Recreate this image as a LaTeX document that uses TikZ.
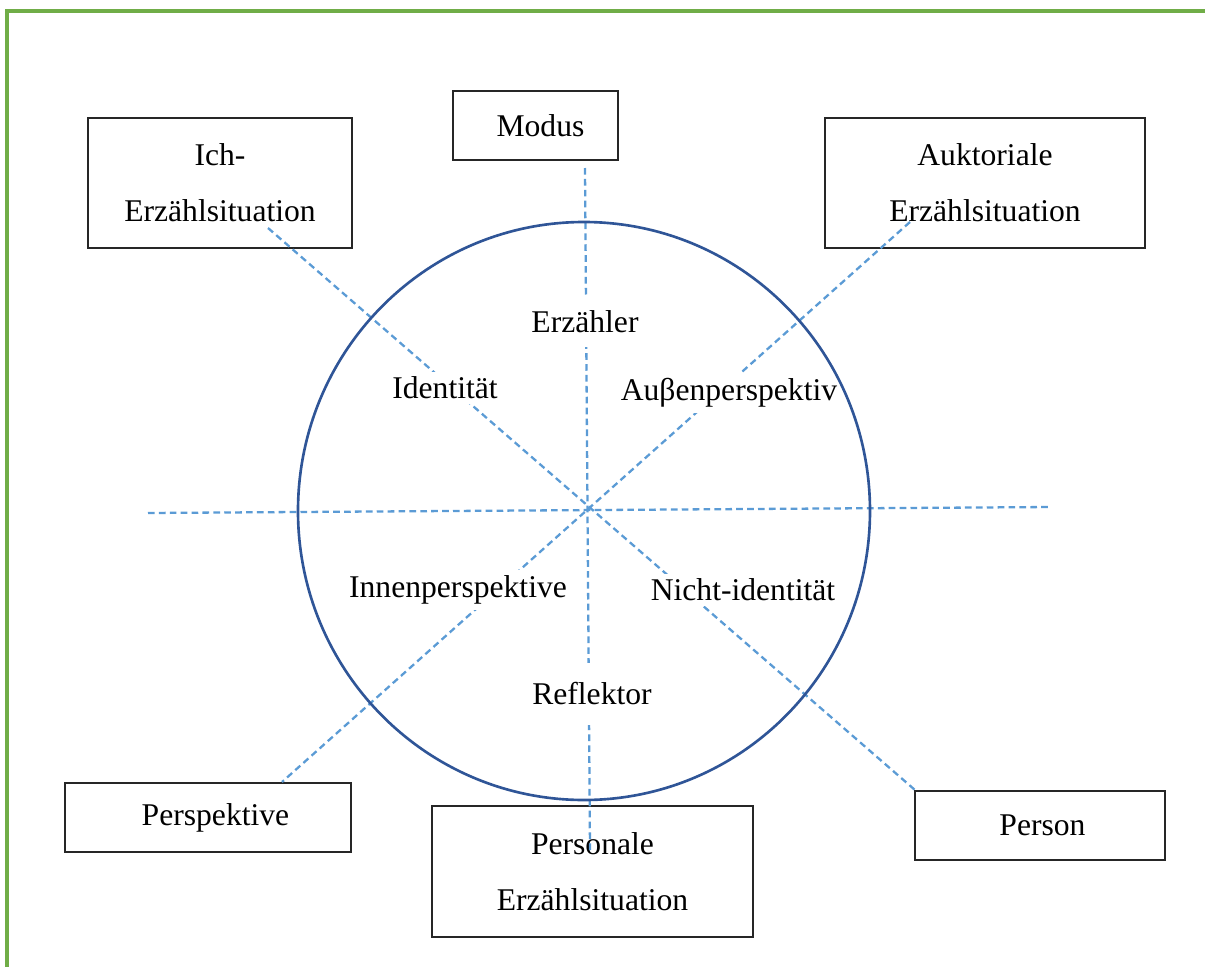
\documentclass[tikz,border=0pt]{standalone}
\usepackage{fontspec}
\setmainfont{Liberation Serif}
\usepackage{tkz-euclide}
\definecolor{achsblau}{RGB}{91,155,213}
\definecolor{kreisblau}{RGB}{47,85,151}
\definecolor{rahmengruen}{RGB}{112,173,71}
\tikzset{
    feld/.style={draw=black!85, line width=1pt, fill=white, align=center,
        inner sep=0pt, font=\fontsize{18}{32}\selectfont},
    achse/.style={color=achsblau, line width=1.3pt, dash pattern=on 3.8pt off 2.4pt},
    marke/.style={fill=white, inner sep=3pt, font=\fontsize{18}{22}\selectfont}
}

\begin{document}
\begin{tikzpicture}[x=0.02cm,y=-0.02cm]
        \useasboundingbox (0,0) rectangle (1205,967);
        \draw[rahmengruen, line width=2.6pt] (7,967) -- (7,11) -- (1205,11);
        % Felder aussen
        \node[feld, minimum width=5.28cm, minimum height=2.6cm] (ich) at (220,183) {Ich-\\Erzählsituation};
        \node[feld, minimum width=3.3cm, minimum height=1.38cm] (modus) at (535.5,125.5) {\hspace{0.2cm}Modus};
        \node[feld, minimum width=6.4cm, minimum height=2.6cm] (auktorial) at (985,183) {Auktoriale\\Erzählsituation};
        \node[feld, minimum width=5.72cm, minimum height=1.38cm] (perspektive) at (208,817.5) {\hspace{0.3cm}Perspektive};
        \node[feld, minimum width=6.42cm, minimum height=2.62cm] (personal) at (592.5,871.5) {Personale\\Erzählsituation};
        \node[feld, minimum width=5cm, minimum height=1.38cm] (person) at (1040,825.5) {\hspace{0.1cm}Person};
        % Achsen
        \tkzDefPoint(585,168){oben}
        \tkzDefPoint(590,850){unten}
        \tkzDefPoint(148,513){links}
        \tkzDefPoint(1052,507){rechts}
        \tkzDefPoint(268,228){ichfuss}
        \tkzDefPoint(915,790){personecke}
        \tkzDefPoint(910,222){auktfuss}
        \tkzDefPoint(282,782){perspkopf}
        \draw[achse] (oben) -- (unten);
        \draw[achse] (links) -- (rechts);
        \draw[achse] (ichfuss) -- (personecke);
        \draw[achse] (auktfuss) -- (perspkopf);
        % Beschriftung im Kreis
        \node[marke, inner ysep=8pt] (erzaehler) at (585,322) {Erzähler};
        \node[marke] (identitaet) at (445,388) {Identität};
        \node[marke, inner xsep=0.5pt] (aussen) at (729,393) {Auβenperspektiv};
        \node[marke] (innen) at (458,590) {Innenperspektive};
        \node[marke] (nicht) at (743,590) {Nicht-identität};
        \node[marke, inner ysep=11pt] (reflektor) at (592,694) {Reflektor};
        % Kreis
        \draw[kreisblau, line width=1.5pt] (584,511) ellipse [x radius=286, y radius=289];
        \fill[white] (742,716) rectangle (756,729);
    \end{tikzpicture}
\end{document}
